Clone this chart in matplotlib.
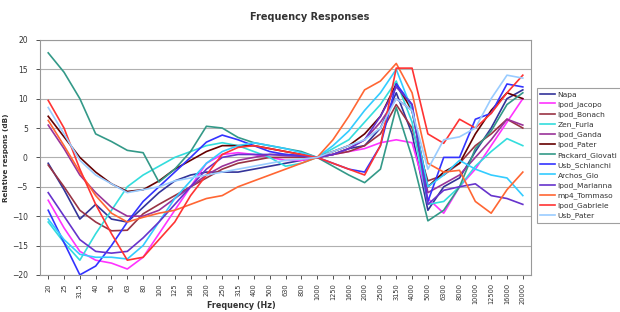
import numpy as np
import matplotlib
matplotlib.use("Agg")
import matplotlib.pyplot as plt

freqs = ["20", "25", "31.5", "40", "50", "63", "80", "100", "125", "160",
         "200", "250", "315", "400", "500", "630", "800", "1000", "1250",
         "1600", "2000", "2500", "3150", "4000", "5000", "6300", "8000",
         "10000", "12500", "16000", "20000"]

napa = [-1, -5.5, -10.5, -8, -10.5, -11, -8.5, -6, -4, -3, -2.5, -2.5, -2.5, -2, -1.5, -1,
        -0.5, 0, 0.5, 1.5, 2, 5, 11, 4, -9, -5, -3.5, 1, 5, 10, 11.5]
ipod_jacopo = [-7.3, -12, -16, -17.5, -18, -19, -17, -13, -9, -5, -1, 0.5, 0.8, 0.5, 0, -0.5,
               -0.5, 0, 0.5, 1, 1.5, 2.5, 3, 2.5, -7, -9.5, -5, -2, 2, 6, 10]
ipod_bonach = [-1.3, -5, -9, -11, -12.5, -12.4, -9.6, -8, -6.5, -5, -3.5, -2, -1, -0.5, 0, 0,
               0, 0, 0.5, 1, 2, 4, 9, 5, -4, -3, -1, 2, 4, 6.5, 5]
zen_furla = [-11, -14.5, -17.5, -13, -9, -5, -3, -1.5, 0, 1, 2, 2.5, 2, 1, 0, -1.5, -1, 0,
             1.5, 3, 6, 9, 13, 6, -8, -7.5, -5, -1.5, 1, 3.2, 2]
ipod_ganda = [5.5, 1.5, -3, -6, -8.5, -10, -10, -9, -7, -5, -3, -1.5, -0.5, 0, 0.5, 0.5, 0.3,
              0, 0.5, 1.5, 3, 6, 10, 8, -6, -4.5, -3, 0, 3, 6.5, 5.5]
ipod_pater = [7, 3.5, 0, -2.5, -4.5, -5.8, -5.5, -4, -2, -0.5, 1, 2, 2, 2, 1.5, 1, 0.5, 0,
              1, 2, 4, 7, 12.5, 8, -5, -2.5, -1, 4, 8, 11, 10]
packard_giovati = [17.8, 14.5, 10, 4, 2.7, 1.2, 0.8, -4.2, -2, 1, 5.3, 5, 3.4, 2.5, 2, 1.5,
                   1, 0, -1.5, -3, -4.3, -2, 8.5, 0, -10.8, -9, -5, 1.5, 4.5, 9, 11]
usb_schianchi = [-9, -14.5, -20, -18.5, -15, -11, -7.5, -5, -2.5, 0, 2.6, 3.8, 3, 2, 1, 0.5,
                 0.3, 0, -1, -2, -2.5, 2, 12.5, 9, -7.5, 0, 0, 6.5, 7.5, 12.5, 12]
archos_gio = [-10.5, -14, -16.5, -17, -17, -17.3, -15, -11, -7, -4, -1, 1, 2, 2.5, 2, 1.5,
              0.8, 0, 2, 4.5, 8, 11, 15, 8, -5, -3, -0.5, -2, -3, -3.5, -6.5]
ipod_marianna = [-6, -10, -14, -16, -16.3, -16, -13.7, -11, -8, -5, -2, 0, 0.5, 0.5, 0.5,
                 0.3, 0.2, 0, 0.5, 1.5, 3, 7, 12, 9, -8, -5.6, -5, -4.5, -6.5, -7, -8]
mp4_tommaso = [6.3, 2, -2.5, -6.5, -9.5, -11, -10.2, -9.5, -9, -8, -7, -6.5, -5, -4, -3, -2,
               -1, 0, 3, 7, 11.5, 13, 16, 11, -1, -2.5, -2.2, -7.5, -9.5, -5.5, -2.5]
ipod_gabriele = [9.7, 5, -2, -8, -13, -17.5, -17, -14, -11, -6.5, -3, 0.5, 1.7, 2, 1.5, 1,
                 0.5, 0, -1, -2, -3, 2, 15.2, 15.2, 4, 2.4, 6.5, 5, 7.5, 11, 14]
usb_pater = [8.5, 4, -0.5, -3, -4.5, -6, -5.5, -5, -4, -3.5, -3, -2.5, -2, -1.5, -1, -0.5,
             -0.3, 0, 1, 2, 3, 5, 10, 8, -2, 3, 3.5, 5, 10, 14, 13.5]

names = ["Napa", "Ipod_jacopo", "Ipod_Bonach", "Zen_Furla", "Ipod_Ganda", "Ipod_Pater",
         "Packard_Giovati", "Usb_Schianchi", "Archos_Gio", "Ipod_Marianna",
         "mp4_Tommaso", "Ipod_Gabriele", "Usb_Pater"]
series = [napa, ipod_jacopo, ipod_bonach, zen_furla, ipod_ganda, ipod_pater,
          packard_giovati, usb_schianchi, archos_gio, ipod_marianna,
          mp4_tommaso, ipod_gabriele, usb_pater]
colors = ["#333399", "#FF33FF", "#993344", "#33DDDD", "#993399", "#660000",
          "#339988", "#3333FF", "#33CCFF", "#6633CC", "#FF6633", "#FF3333", "#99CCFF"]

fig = plt.figure(figsize=(6.2, 3.12), dpi=100)
ax = fig.add_axes([0.065, 0.119, 0.791, 0.753])

x = np.arange(len(freqs))
for name, vals, c in zip(names, series, colors):
    ax.plot(x, vals, color=c, lw=1.2, label=name)

ax.set_xlim(-0.5, len(freqs) - 0.5)
ax.set_ylim(-20, 20)
ax.set_yticks(np.arange(-20, 21, 5))
ax.set_xticks(x)
ax.set_xticklabels(freqs, rotation=90, fontsize=4.8, color="#333333")
ax.tick_params(axis="y", labelsize=5.5, colors="#333333", length=3, width=0.6, pad=6)
ax.tick_params(axis="x", length=3, width=0.6, colors="#333333", pad=3)
ax.yaxis.grid(True, color="#b0b0b0", lw=0.8)
ax.set_axisbelow(True)
for s in ax.spines.values():
    s.set_color("#999999")
    s.set_linewidth(0.8)

fig.text(0.39, 0.022, "Frequency (Hz)", ha="center", va="center",
         fontsize=5.8, fontweight="bold", color="#333333")
ax.set_ylabel("Relative respons (dB)", fontsize=5.2, fontweight="bold", color="#333333", labelpad=2)
fig.text(0.5, 0.945, "Frequency Responses", ha="center", va="center",
         fontsize=7, fontweight="bold", color="#333333")

leg = fig.legend(loc="upper left", bbox_to_anchor=(0.866, 0.718), fontsize=5.4,
                 frameon=True, fancybox=False, handlelength=2.0, handletextpad=0.3,
                 labelspacing=0.42, borderpad=0.45, borderaxespad=0)
leg.get_frame().set_edgecolor("#888888")
leg.get_frame().set_linewidth(0.8)
for t in leg.get_texts():
    t.set_color("#333333")

fig.savefig("out.png", dpi=100)
